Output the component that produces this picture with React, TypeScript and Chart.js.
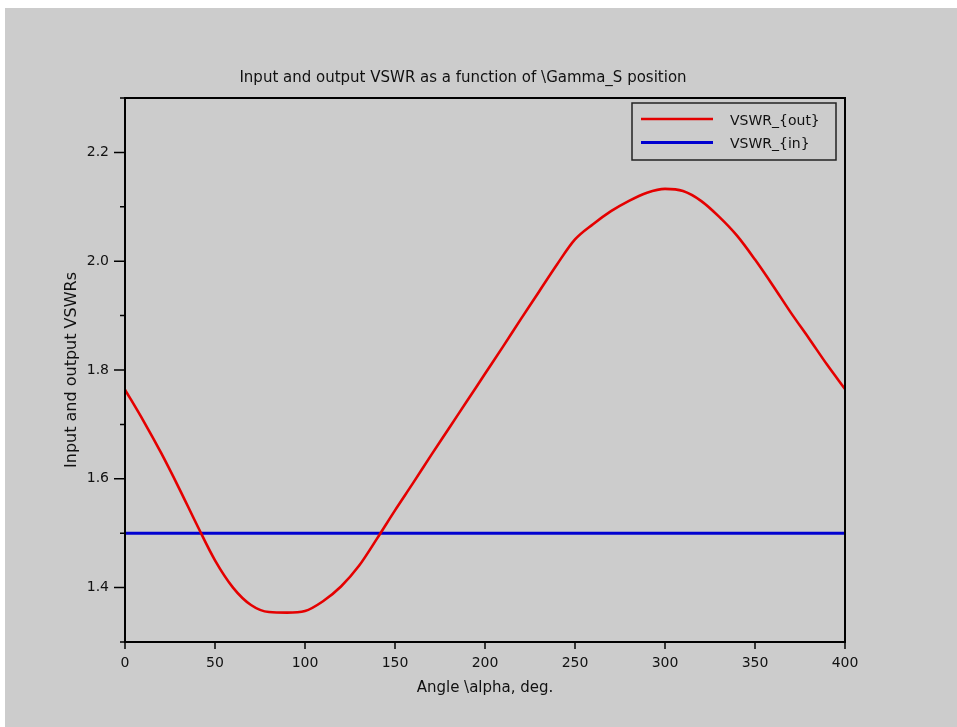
import React, { useEffect, useRef } from 'react';
import { Chart, registerables } from 'chart.js';

Chart.register(...registerables);

// ---- data ----
const angles = [0, 10, 20, 30, 40, 50, 60, 70, 80, 90, 100, 110, 120, 130, 140, 150, 160, 170, 180, 190, 200, 210, 220, 230, 240, 250, 260, 270, 280, 290, 300, 310, 320, 330, 340, 350, 360, 370, 380, 390, 400];
const vswrOut = [1.764, 1.708, 1.648, 1.583, 1.515, 1.45, 1.4, 1.368, 1.355, 1.354, 1.357, 1.375, 1.402, 1.44, 1.49, 1.542, 1.592, 1.643, 1.693, 1.743, 1.793, 1.843, 1.894, 1.944, 1.994, 2.04, 2.068, 2.092, 2.111, 2.126, 2.133, 2.129, 2.111, 2.082, 2.047, 2.003, 1.955, 1.905, 1.858, 1.81, 1.765];
const inAngles = [0, 400];
const vswrIn = [1.5, 1.5];
const seriesLabels = ['VSWR_{out}', 'VSWR_{in}'];
const labelledYTicks = [1.4, 1.6, 1.8, 2.0, 2.2];

const titleText = 'Input and output VSWR as a function of \\Gamma_S position';
const xTitle = 'Angle \\alpha, deg.';
const yTitle = 'Input and output VSWRs';

const W = 952;
const H = 719;
const FONT = 'DejaVu Sans';
const TEXT = '#111111';
const BG = '#cccccc';

const scilabFrame = {
  id: 'scilabFrame',
  beforeDraw(chart: any) {
    const { ctx } = chart;
    ctx.save();
    ctx.fillStyle = BG;
    ctx.fillRect(0, 0, chart.width, chart.height);
    ctx.restore();
  },
  afterDraw(chart: any) {
    const { ctx, chartArea } = chart;
    const { left, right, top, bottom } = chartArea;
    const xs = chart.scales.x;
    const ys = chart.scales.y;
    ctx.save();
    ctx.strokeStyle = '#000';
    ctx.lineWidth = 2;
    ctx.strokeRect(left, top, right - left, bottom - top);
    ctx.lineWidth = 1.5;
    ctx.beginPath();
    ys.ticks.forEach((t: any) => {
      const py = ys.getPixelForValue(t.value);
      const major = labelledYTicks.some((v) => Math.abs(v - t.value) < 1e-6);
      const len = major ? 11 : 5;
      ctx.moveTo(left - len, py);
      ctx.lineTo(left, py);
    });
    xs.ticks.forEach((t: any) => {
      const px = xs.getPixelForValue(t.value);
      ctx.moveTo(px, bottom);
      ctx.lineTo(px, bottom + 7);
    });
    ctx.stroke();

    // legend box
    const bl = right - 213;
    const br = right - 9;
    const bt = top + 5;
    const bb = top + 62;
    ctx.lineWidth = 1.5;
    ctx.strokeStyle = '#222';
    ctx.strokeRect(bl, bt, br - bl, bb - bt);
    const rows = [16, 39.5];
    chart.data.datasets.forEach((ds: any, i: number) => {
      const ly = bt + rows[i];
      ctx.strokeStyle = ds.borderColor;
      ctx.lineWidth = ds.borderWidth;
      ctx.beginPath();
      ctx.moveTo(bl + 9, ly);
      ctx.lineTo(bl + 81, ly);
      ctx.stroke();
      ctx.fillStyle = TEXT;
      ctx.font = `14px "${FONT}"`;
      ctx.textAlign = 'left';
      ctx.textBaseline = 'middle';
      ctx.fillText(ds.label, bl + 98, ly + 2);
    });
    ctx.restore();
  },
};

export default function App() {
  const ref = useRef<HTMLCanvasElement | null>(null);

  useEffect(() => {
    if (!ref.current) return;
    const font = { family: FONT, size: 14 };
    const chart = new Chart(ref.current, {
      type: 'line',
      data: {
        datasets: [
          {
            label: seriesLabels[0],
            data: angles.map((a, i) => ({ x: a, y: vswrOut[i] })),
            borderColor: '#e40000',
            borderWidth: 2.6,
            pointRadius: 0,
            cubicInterpolationMode: 'monotone',
            fill: false,
          },
          {
            label: seriesLabels[1],
            data: inAngles.map((a, i) => ({ x: a, y: vswrIn[i] })),
            borderColor: '#0000d0',
            borderWidth: 3,
            pointRadius: 0,
            fill: false,
          },
        ],
      },
      options: {
        responsive: false,
        animation: false,
        devicePixelRatio: 1,
        events: [],
        layout: { padding: { left: 76, right: 112, top: 0, bottom: 0 } },
        plugins: {
          legend: { display: false },
          tooltip: { enabled: false },
          title: {
            display: true,
            text: titleText,
            color: TEXT,
            font: { family: FONT, size: 15, weight: 'normal' },
            padding: { top: 61, bottom: 11 },
          },
        },
        scales: {
          x: {
            type: 'linear',
            min: 0,
            max: 400,
            grid: { display: false, drawTicks: false },
            border: { display: true, color: '#000', width: 2 },
            ticks: { stepSize: 50, padding: 13, color: TEXT, font, maxRotation: 0, autoSkip: false },
            title: { display: true, text: xTitle, color: TEXT, font: { family: FONT, size: 15 }, padding: { top: 0, bottom: 29.5 } },
            afterFit: (s: any) => { s.height = 85; },
          },
          y: {
            type: 'linear',
            min: 1.3,
            max: 2.3,
            grid: { display: false, drawTicks: false },
            border: { display: true, color: '#000', width: 2 },
            ticks: {
              stepSize: 0.1,
              padding: 16,
              color: TEXT,
              font,
              autoSkip: false,
              callback: (v: any) => {
                const n = Number(v);
                return labelledYTicks.some((t) => Math.abs(t - n) < 1e-6) ? n.toFixed(1) : '';
              },
            },
            title: { display: true, text: yTitle, color: TEXT, font: { family: FONT, size: 16 }, padding: { top: -19, bottom: 0 } },
            afterFit: (s: any) => { s.width = 44; },
          },
        },
      } as any,
      plugins: [scilabFrame],
    });
    return () => chart.destroy();
  }, []);

  return (
    <div style={{ position: 'absolute', left: 5, top: 8, width: W, height: H }}>
      <canvas ref={ref} width={W} height={H} style={{ display: 'block', width: W, height: H }} />
    </div>
  );
}
